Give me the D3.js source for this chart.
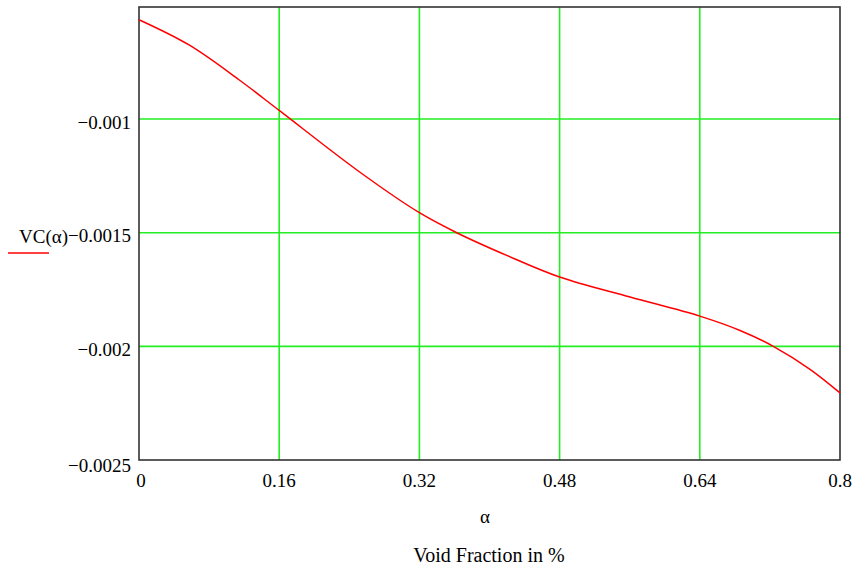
<!DOCTYPE html>
<html><head><meta charset="utf-8">
<script src="https://cdn.jsdelivr.net/npm/d3@7"></script>
<style>body{margin:0;background:#fff}svg{display:block}</style>
</head><body>
<script>
const alphaVals = [0, 0.0571, 0.1141, 0.16, 0.2522, 0.32, 0.3626, 0.421, 0.48, 0.5604, 0.64, 0.6859, 0.7239, 0.7658, 0.8];
const vcVals = [-0.000563, -0.000674, -0.000827, -0.000962, -0.001234, -0.001412, -0.0015, -0.001602, -0.001695, -0.001783, -0.001867, -0.00193, -0.002, -0.002101, -0.002205];
const xTicks = [0, 0.16, 0.32, 0.48, 0.64, 0.8];
const yTicks = [-0.001, -0.0015, -0.002, -0.0025];
const xTickLabels = ["0", "0.16", "0.32", "0.48", "0.64", "0.8"];
const yTickLabels = ["\u22120.001", "\u22120.0015", "\u22120.002", "\u22120.0025"];
const xTitle = "\u03b1";
const xSubTitle = "Void Fraction in %";
const yTitle = "VC(\u03b1)";

const W = 857, H = 570;
const L = 139, R = 840, T = 7, B = 460;
const svg = d3.select("body").append("svg").attr("width", W).attr("height", H);
const x = d3.scaleLinear().domain([0, 0.8]).range([L, R]);
const y = d3.scaleLinear().domain([-0.0025, -0.000507]).range([B, T]);
const font = "'Liberation Serif', 'Times New Roman', serif";
const fs = 19;

// gridlines
const g = svg.append("g");
g.selectAll("line.vx").data(xTicks.slice(1, -1)).enter().append("line")
  .attr("x1", d => x(d)).attr("x2", d => x(d)).attr("y1", T).attr("y2", B)
  .attr("stroke", "#22ee22").attr("stroke-width", 1.6);
g.selectAll("line.hy").data(yTicks.slice(0, -1)).enter().append("line")
  .attr("x1", L).attr("x2", R).attr("y1", d => y(d)).attr("y2", d => y(d))
  .attr("stroke", "#22ee22").attr("stroke-width", 1.6);

// frame
svg.append("rect").attr("x", L).attr("y", T).attr("width", R - L).attr("height", B - T)
  .attr("fill", "none").attr("stroke", "#333").attr("stroke-width", 1.6);

// curve
const pts = alphaVals.map((a, i) => [a, vcVals[i]]);
svg.append("path").datum(pts)
  .attr("d", d3.line().x(d => x(d[0])).y(d => y(d[1])).curve(d3.curveCatmullRom.alpha(0.5)))
  .attr("fill", "none").attr("stroke", "#ff0000").attr("stroke-width", 1.5);

// axes tick labels
svg.selectAll("text.xt").data(xTicks).enter().append("text")
  .attr("x", (d, i) => x(d) + (i === 0 ? 2 : 0)).attr("y", 487)
  .attr("text-anchor", "middle").attr("font-family", font).attr("font-size", fs)
  .text((d, i) => xTickLabels[i]);
svg.selectAll("text.yt").data(yTicks).enter().append("text")
  .attr("x", 131).attr("y", d => y(d) + 9.5 + (d === -0.0025 ? 2 : 0))
  .attr("text-anchor", "end").attr("font-family", font).attr("font-size", fs)
  .text((d, i) => yTickLabels[i]);

// titles
svg.append("text").attr("x", 485).attr("y", 523).attr("text-anchor", "middle")
  .attr("font-family", font).attr("font-size", fs).text(xTitle);
svg.append("text").attr("x", 489).attr("y", 562).attr("text-anchor", "middle")
  .attr("font-family", font).attr("font-size", 20).text(xSubTitle);
svg.append("text").attr("x", 68).attr("y", y(-0.0015) + 10).attr("text-anchor", "end")
  .attr("font-family", font).attr("font-size", fs).text(yTitle);
svg.append("line").attr("x1", 8).attr("x2", 49).attr("y1", 253).attr("y2", 253)
  .attr("stroke", "#ff0000").attr("stroke-width", 1.5);
</script>
</body></html>
